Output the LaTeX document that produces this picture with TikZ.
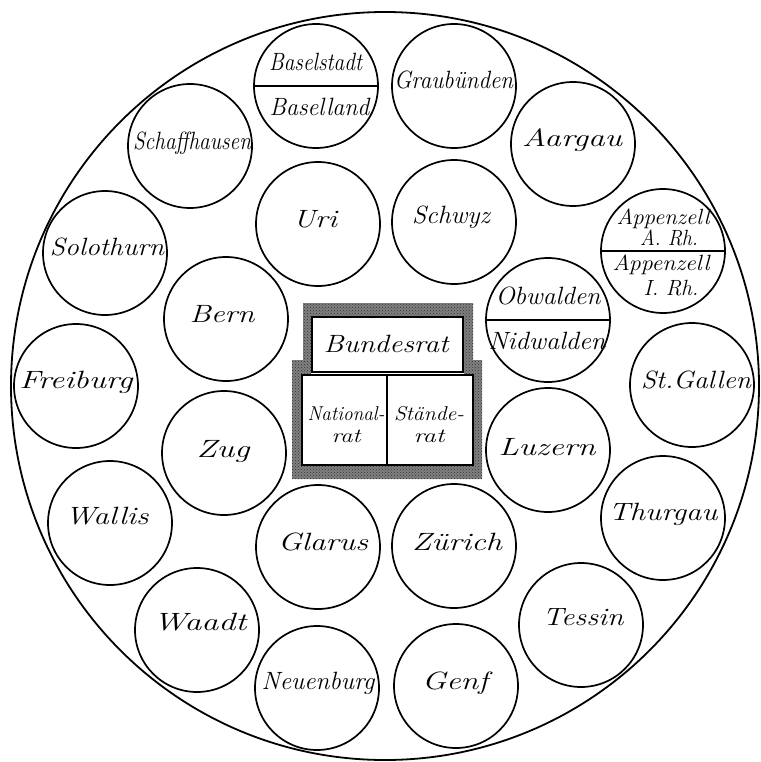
\documentclass[tikz,border=0pt]{standalone}
\usepackage{fontspec}
\usepackage{graphicx}
\usetikzlibrary{patterns}
\newcommand{\hw}[2]{\resizebox{#1pt}{\height}{#2}}
\begin{document}
\begin{tikzpicture}[x=1pt,y=-1pt,
  kanton/.style={circle, draw=black, line width=1.7pt, minimum size=124pt, inner sep=0pt, outer sep=0pt},
  lab/.style={inner sep=0pt, text height=18pt, text depth=4pt, font=\fontsize{25}{27}\selectfont\itshape},
  slab/.style={lab, font=\fontsize{22}{24}\selectfont\itshape},
  zweizeilig/.style={inner sep=0pt, align=center, font=\fontsize{20}{22}\selectfont\itshape},
  teil/.style={draw=black, line width=1.6pt},
  rahmen/.style={fill=black!50},
  raster/.style={pattern=crosshatch dots, pattern color=black!80},
  kammer/.style={rectangle, draw=black, line width=1.8pt, fill=white, inner sep=0pt, outer sep=0pt}]
\useasboundingbox (0,0) rectangle (760,762);
\fill[white] (0,0) rectangle (760,762);
% outer circle
\node[circle, draw=black, line width=1.8pt, minimum size=748pt, inner sep=0pt, outer sep=0pt] (bund) at (385,386) {};
% cantons
\node[kanton] (basel) at (316,86) {};
\node[kanton] (gr) at (454,86) {};
\node[kanton] (ag) at (573,144) {};
\node[kanton] (sh) at (190,146) {};
\node[kanton] (so) at (105,253) {};
\node[kanton] (ap) at (663,251) {};
\node[kanton] (ur) at (318,224) {};
\node[kanton] (sz) at (454,222) {};
\node[kanton] (be) at (226,319) {};
\node[kanton] (uw) at (548,320) {};
\node[kanton] (fr) at (76,386) {};
\node[kanton] (sg) at (692,385) {};
\node[kanton] (zg) at (224,453) {};
\node[kanton] (lu) at (548,450) {};
\node[kanton] (vs) at (110,523) {};
\node[kanton] (tg) at (663,518) {};
\node[kanton] (gl) at (318,547) {};
\node[kanton] (zh) at (454,546) {};
\node[kanton] (vd) at (197,630) {};
\node[kanton] (ti) at (581,625) {};
\node[kanton] (ne) at (317,688) {};
\node[kanton] (ge) at (456,686) {};
% dividing lines of half cantons
\draw[teil] (basel.west) -- (basel.east);
\draw[teil] (ap.west) -- (ap.east);
\draw[teil] (uw.west) -- (uw.east);
% central frame
\path[rahmen] (303,303) -- (473,303) -- (473,360) -- (482,360) -- (482,479) -- (292,479) -- (292,360) -- (303,360) -- cycle;
\path[raster] (303,303) -- (473,303) -- (473,360) -- (482,360) -- (482,479) -- (292,479) -- (292,360) -- (303,360) -- cycle;
\fill[white] (311,316) rectangle (464,376);
\node[kammer, minimum width=151pt, minimum height=55pt] (br) at (387.5,344.5) {};
\node[kammer, minimum width=85pt, minimum height=90pt] (nr) at (344.5,420) {};
\node[kammer, minimum width=86pt, minimum height=90pt] (sr) at (430,420) {};
% labels
\node[lab] (br-t) at (386,345) {\hw{125}{Bundesrat}};
\node[zweizeilig] (nr-t) at (346,425) {\hw{77}{National-}\\\hw{29}{rat}};
\node[zweizeilig] (sr-t) at (429,425) {\hw{70}{Stände-}\\\hw{31}{rat}};
\node[lab] (bs-t) at (315.5,64) {\hw{93}{Baselstadt}};
\node[lab] (bl-t) at (319.5,109) {\hw{100}{Baselland}};
\node[lab] (gr-t) at (453.5,82) {\hw{119}{Graubünden}};
\node[lab] (sh-t) at (192,143) {\hw{118}{Schaffhausen}};
\node[lab] (so-t) at (107,248) {\hw{114}{Solothurn}};
\node[lab] (ag-t) at (572,140) {\hw{100}{Aargau}};
\node[lab] (ur-t) at (315,220) {\hw{44}{Uri}};
\node[lab] (sz-t) at (451,216) {\hw{78}{Schwyz}};
\node[slab] (ap-t1) at (663,217) {\hw{93}{Appenzell}};
\node[slab] (ap-t2) at (669,238) {\hw{58}{A. Rh.}};
\node[slab] (ap-t3) at (661,263) {\hw{97}{Appenzell}};
\node[slab] (ap-t4) at (671,288) {\hw{55}{I. Rh.}};
\node[lab] (be-t) at (222,315) {\hw{65}{Bern}};
\node[lab] (ow-t) at (548,297) {\hw{105}{Obwalden}};
\node[lab] (nw-t) at (547,342) {\hw{117}{Nidwalden}};
\node[lab] (fr-t) at (76,381) {\hw{113}{Freiburg}};
\node[lab] (sg-t) at (696,381) {\hw{110}{St.Gallen}};
\node[lab] (zg-t) at (223,450) {\hw{53}{Zug}};
\node[lab] (lu-t) at (547,448) {\hw{97}{Luzern}};
\node[lab] (vs-t) at (107,517) {\hw{83}{Wallis}};
\node[lab] (tg-t) at (663,513) {\hw{109}{Thurgau}};
\node[lab] (gl-t) at (323,543) {\hw{90}{Glarus}};
\node[lab] (zh-t) at (457,543) {\hw{90}{Zürich}};
\node[lab] (vd-t) at (200,623) {\hw{93}{Waadt}};
\node[lab] (ti-t) at (583,618) {\hw{81}{Tessin}};
\node[lab] (ne-t) at (318,682) {\hw{113}{Neuenburg}};
\node[lab] (ge-t) at (455,682) {\hw{66}{Genf}};
\end{tikzpicture}
\end{document}
